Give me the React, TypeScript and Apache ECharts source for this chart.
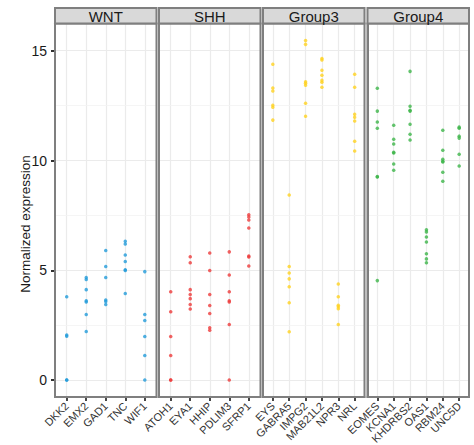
import React, { useEffect, useRef } from "react";
import * as echarts from "echarts";

const groups = ["WNT", "SHH", "Group3", "Group4"];

const wntGenes = ["DKK2", "EMX2", "GAD1", "TNC", "WIF1"];
const shhGenes = ["ATOH1", "EYA1", "HHIP", "PDLIM3", "SFRP1"];
const group3Genes = ["EYS", "GABRA5", "IMPG2", "MAB21L2", "NPR3", "NRL"];
const group4Genes = ["EOMES", "KCNA1", "KHDRBS2", "OAS1", "RBM24", "UNC5D"];

const wntValues = [
  [3.8, 2.05, 2.0, 0, 0],
  [4.67, 4.58, 4.12, 3.61, 3.56, 2.99, 2.21],
  [5.9, 5.17, 4.67, 3.65, 3.58, 3.44],
  [6.32, 6.2, 5.7, 5.4, 5.03, 4.99, 3.94],
  [4.94, 2.99, 2.71, 1.99, 1.12, 0],
];
const shhValues = [
  [4.02, 3.11, 1.99, 1.12, 0, 0],
  [5.62, 5.34, 4.12, 3.9, 3.71, 3.44, 3.24],
  [5.79, 4.99, 3.9, 3.4, 3.03, 2.38, 2.27],
  [5.84, 4.79, 4.02, 3.61, 3.56, 2.53, 0],
  [7.53, 7.43, 7.29, 6.93, 5.65, 5.61, 5.2],
];
const group3Values = [
  [14.38, 13.3, 13.17, 12.52, 12.43, 11.84],
  [8.43, 5.17, 4.88, 4.61, 4.25, 3.52, 2.2],
  [15.47, 15.29, 13.59, 13.52, 13.43, 12.61, 12.02],
  [14.65, 14.58, 14.11, 13.88, 13.65, 13.56, 13.34],
  [4.38, 3.8, 3.41, 3.34, 3.25, 2.53],
  [13.93, 13.34, 12.11, 11.97, 11.8, 10.88, 10.43],
];
const group4Values = [
  [13.29, 12.25, 11.75, 11.47, 9.27, 9.25, 4.53],
  [11.61, 10.97, 10.75, 10.38, 10.34, 9.84, 9.56],
  [14.06, 12.47, 12.29, 12.25, 11.65, 11.2, 10.93],
  [6.85, 6.75, 6.52, 6.29, 5.75, 5.52, 5.34],
  [11.38, 10.47, 10.06, 9.97, 9.93, 9.47, 9.06],
  [11.52, 11.47, 11.11, 11.02, 10.29, 9.75],
];

const yTicks = [0, 5, 10, 15];
const yMinorTicks = [2.5, 7.5, 12.5];
const yTitle = "Normalized expression";

const groupColors = ["#229BDA", "#EE3B3B", "#FFD21F", "#3DB54A"];

const FONT = "Liberation Sans, Arial, Helvetica, sans-serif";

export default function App() {
  const ref = useRef<HTMLDivElement>(null);

  useEffect(() => {
    if (!ref.current) return;
    const chart = echarts.init(ref.current, null, { renderer: "svg" });

    const genesList = [wntGenes, shhGenes, group3Genes, group4Genes];
    const valuesList = [wntValues, shhValues, group3Values, group4Values];
    const lefts = [55, 159, 263, 367.5];
    const panelW = 101.5;
    const top = 23.5;
    const panelH = 373.5;
    const yMin = -0.77;
    const yMax = 16.24;

    const grid: any[] = [];
    const xAxis: any[] = [];
    const yAxis: any[] = [];
    const series: any[] = [];
    const graphic: any[] = [];

    genesList.forEach((genes, i) => {
      const n = genes.length;
      const cats = genes.map((_, k) => k + 1);
      grid.push({
        left: lefts[i],
        top,
        width: panelW,
        height: panelH,
        show: true,
        backgroundColor: "#FFFFFF",
        borderWidth: 0,
        containLabel: false,
        outerBoundsMode: "none",
      });
      xAxis.push({
        type: "value",
        gridIndex: i,
        position: "bottom",
        min: 0.4,
        max: n + 0.6,
        axisLine: { show: true, onZero: false, lineStyle: { color: "#7F7F7F", width: 2 } },
        axisTick: {
          show: true,
          customValues: cats,
          length: 4,
          lineStyle: { color: "#1A1A1A", width: 1.6 },
        },
        axisLabel: {
          show: true,
          customValues: cats,
          formatter: (v: number) => genes[Math.round(v) - 1] ?? "",
          rotate: 45,
          fontSize: 11,
          color: "#333333",
          margin: 7,
          fontFamily: FONT,
        },
        splitLine: { show: true, lineStyle: { color: "#EBEBEB", width: 1.2 } },
      });
      yAxis.push({
        type: "value",
        gridIndex: i,
        position: "left",
        min: yMin,
        max: yMax,
        axisLine: { show: true, onZero: false, lineStyle: { color: "#7F7F7F", width: 2 } },
        axisTick: {
          show: i === 0,
          inside: false,
          customValues: yTicks,
          length: 4,
          lineStyle: { color: "#1A1A1A", width: 1.8 },
        },
        axisLabel: {
          show: i === 0,
          customValues: yTicks,
          fontSize: 14,
          color: "#1A1A1A",
          margin: 8,
          fontFamily: FONT,
        },
        splitLine: { show: true, lineStyle: { color: "#EBEBEB", width: 1.2 } },
        z: 3,
      });
      series.push({
        type: "scatter",
        xAxisIndex: i,
        yAxisIndex: i * 2,
        symbol: "circle",
        symbolSize: 3.5,
        itemStyle: { color: groupColors[i] },
        silent: true,
        z: 5,
        data: valuesList[i].flatMap((vals, k) => vals.map((v) => [k + 1, v])),
      });
      yAxis.push({
        type: "value",
        gridIndex: i,
        position: "left",
        min: yMin,
        max: yMax,
        axisLine: { show: false, onZero: false },
        axisTick: { show: false, customValues: yMinorTicks },
        axisLabel: { show: false, customValues: yMinorTicks },
        splitLine: { show: true, lineStyle: { color: "#F3F3F3", width: 0.8 } },
        z: 1,
      });

      graphic.push({
        type: "rect",
        shape: { x: lefts[i], y: top, width: panelW, height: panelH },
        style: { fill: "none", stroke: "#7F7F7F", lineWidth: 2 },
        z: 20,
        silent: true,
      });
      graphic.push({
        type: "rect",
        shape: { x: lefts[i], y: 8, width: panelW, height: top - 8 },
        style: { fill: "#D9D9D9", stroke: "#7F7F7F", lineWidth: 2 },
        z: 20,
        silent: true,
      });
      graphic.push({
        type: "text",
        x: lefts[i] + panelW / 2,
        y: (8 + top) / 2 + 0.5,
        style: {
          text: groups[i],
          fontSize: 15,
          fontFamily: FONT,
          fill: "#1A1A1A",
          align: "center",
          verticalAlign: "middle",
        },
        z: 21,
        silent: true,
      });
    });

    graphic.push({
      type: "text",
      x: 25,
      y: 224,
      rotation: Math.PI / 2,
      style: {
        text: yTitle,
        fontSize: 13.5,
        fontFamily: FONT,
        fill: "#1A1A1A",
        align: "center",
        verticalAlign: "middle",
      },
    });

    chart.setOption({
      animation: false,
      backgroundColor: "#FFFFFF",
      grid,
      xAxis,
      yAxis,
      series,
      graphic,
    });

    return () => chart.dispose();
  }, []);

  return (
    <div
      ref={ref}
      style={{ position: "fixed", left: 0, top: 0, width: 474, height: 445 }}
    />
  );
}
